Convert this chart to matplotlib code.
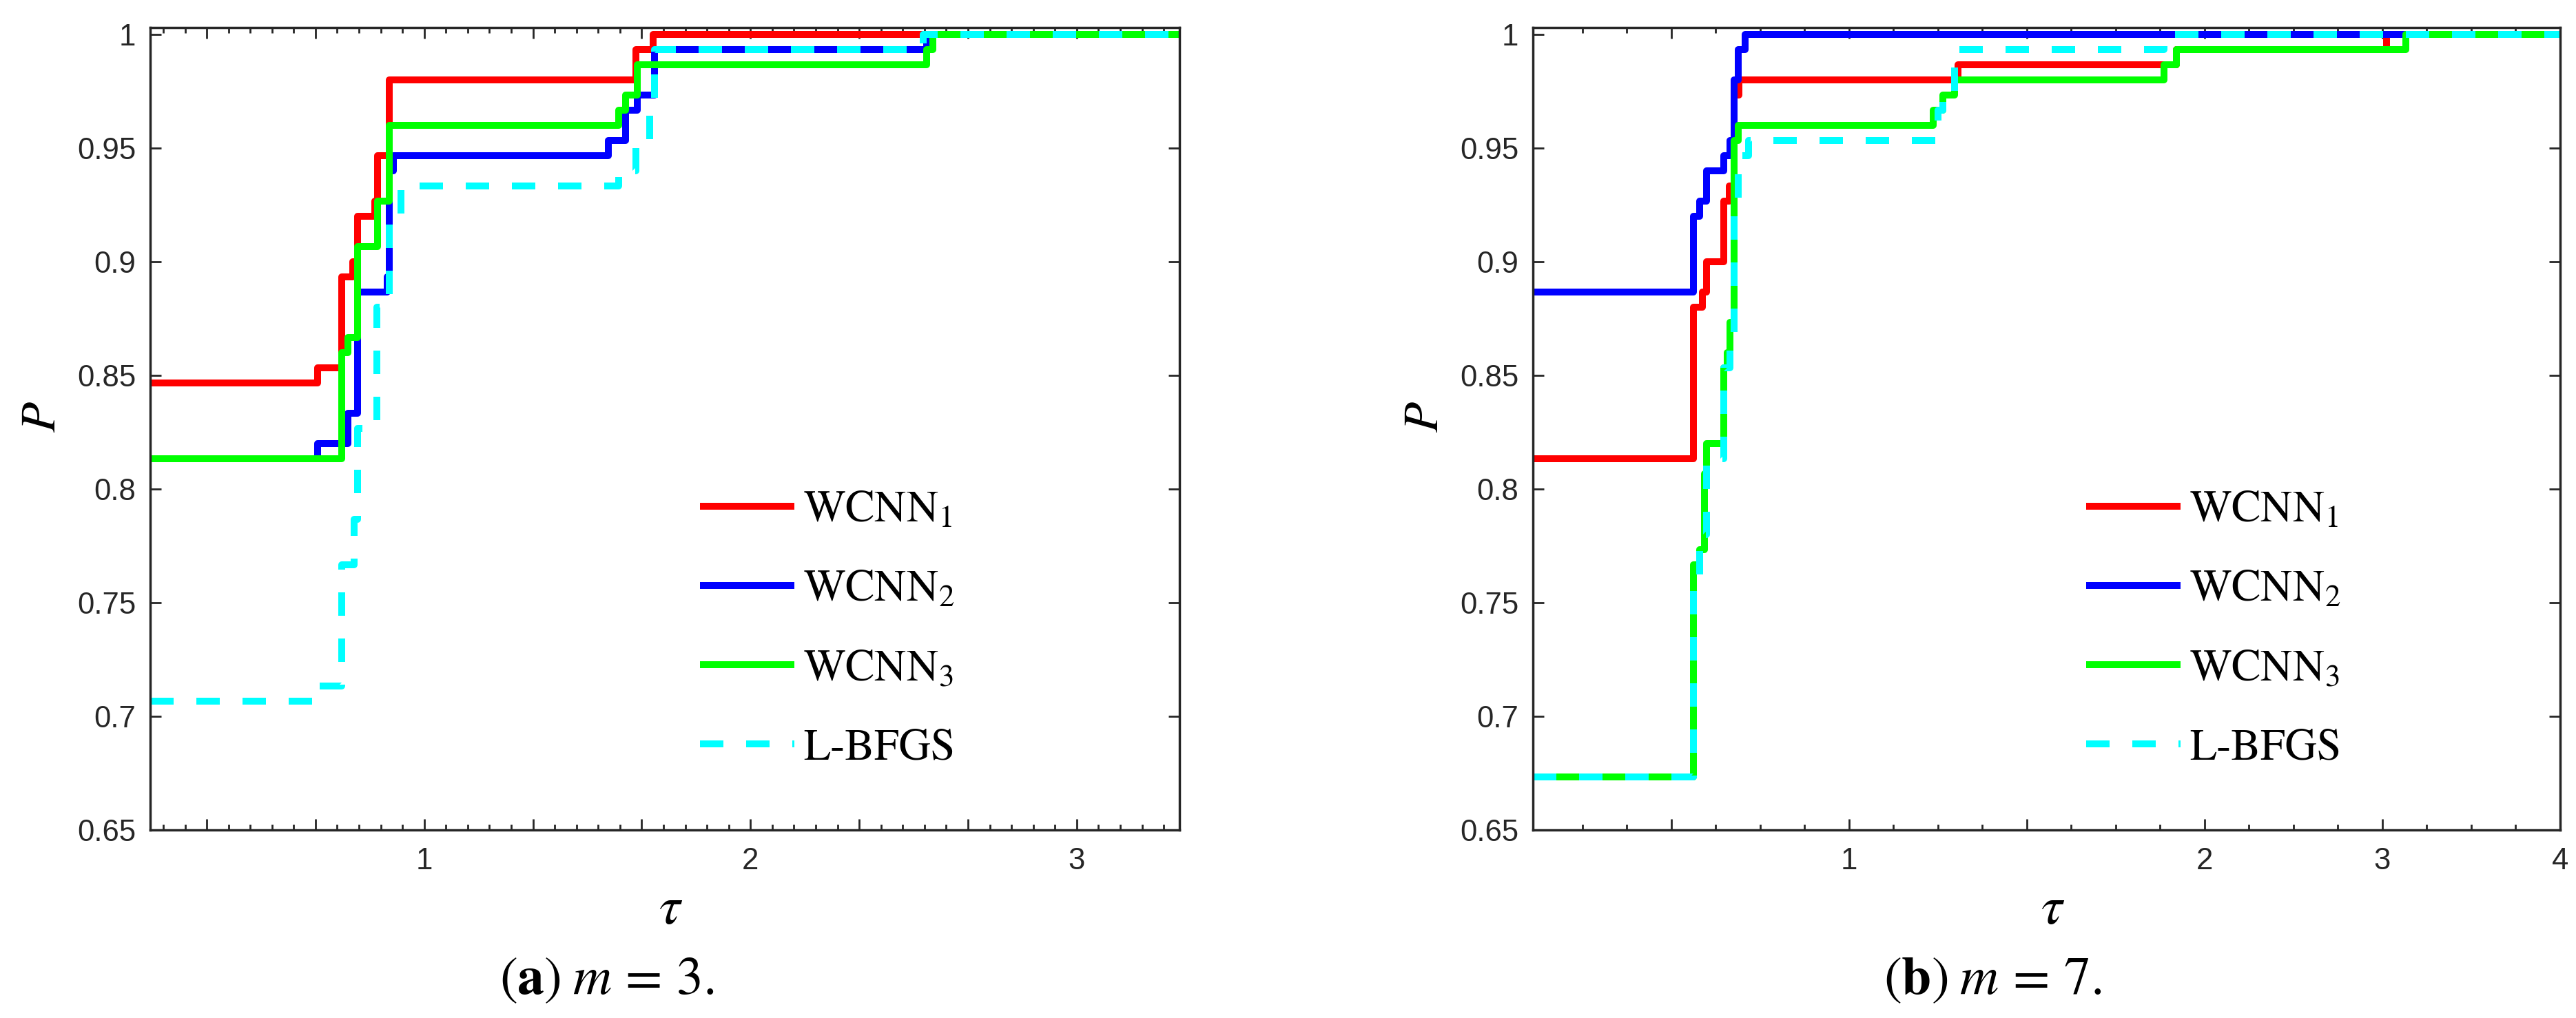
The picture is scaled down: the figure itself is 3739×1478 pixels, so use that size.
import numpy as np
import matplotlib
matplotlib.use("Agg")
import matplotlib.pyplot as plt
from matplotlib.ticker import FixedLocator, FixedFormatter, NullFormatter

plt.rcParams['mathtext.fontset'] = 'stix'
plt.rcParams['font.family'] = ['Liberation Sans', 'DejaVu Sans']

series_names = [r'$\mathrm{WCNN}_1$', r'$\mathrm{WCNN}_2$', r'$\mathrm{WCNN}_3$', 'L-BFGS']

# ---- panel (a): m = 3 ----
a_tau_wcnn1 = [0.16, 0.674, 0.748, 0.781, 0.796, 0.849, 0.856, 0.893, 1.648, 1.702, 3.315]
a_p_wcnn1   = [0.8467, 0.8533, 0.8933, 0.9000, 0.9200, 0.9267, 0.9467, 0.9800, 0.9933, 1.0, 1.0]
a_tau_wcnn2 = [0.16, 0.674, 0.767, 0.796, 0.887, 0.893, 0.905, 1.565, 1.618, 1.652, 1.706, 2.54, 3.315]
a_p_wcnn2   = [0.8133, 0.8200, 0.8333, 0.8867, 0.8933, 0.9400, 0.9467, 0.9533, 0.9667, 0.9733, 0.9933, 1.0, 1.0]
a_tau_wcnn3 = [0.16, 0.748, 0.767, 0.796, 0.856, 0.893, 1.595, 1.618, 1.652, 2.54, 2.56, 3.315]
a_p_wcnn3   = [0.8133, 0.8600, 0.8667, 0.9067, 0.9267, 0.9600, 0.9667, 0.9733, 0.9867, 0.9933, 1.0, 1.0]
a_tau_lbfgs = [0.16, 0.665, 0.748, 0.785, 0.796, 0.855, 0.893, 0.928, 1.595, 1.648, 1.690, 1.706, 2.53, 3.315]
a_p_lbfgs   = [0.7067, 0.7133, 0.7667, 0.7867, 0.8267, 0.8800, 0.9200, 0.9333, 0.9400, 0.9533, 0.9667, 0.9933, 1.0, 1.0]

# ---- panel (b): m = 7 ----
b_tau_wcnn1 = [0.54, 0.7385, 0.751, 0.758, 0.783, 0.792, 0.799, 0.807, 1.236, 1.892, 2.85, 4.0]
b_p_wcnn1   = [0.8133, 0.8800, 0.8867, 0.9000, 0.9267, 0.9333, 0.9733, 0.9800, 0.9867, 0.9933, 1.0, 1.0]
b_tau_wcnn2 = [0.54, 0.7385, 0.747, 0.758, 0.783, 0.793, 0.799, 0.806, 0.817, 4.0]
b_p_wcnn2   = [0.8867, 0.9200, 0.9267, 0.9400, 0.9467, 0.9533, 0.9800, 0.9933, 1.0, 1.0]
b_tau_wcnn3 = [0.54, 0.7385, 0.747, 0.754, 0.758, 0.783, 0.789, 0.793, 0.799, 0.806, 1.179, 1.200, 1.229, 1.849, 1.892, 2.96, 4.0]
b_p_wcnn3   = [0.6733, 0.7667, 0.7733, 0.8067, 0.8200, 0.8533, 0.8600, 0.8733, 0.9533, 0.9600, 0.9667, 0.9733, 0.9800, 0.9867, 0.9933, 1.0, 1.0]
b_tau_lbfgs = [0.54, 0.7385, 0.747, 0.758, 0.783, 0.793, 0.799, 0.806, 0.822, 1.190, 1.200, 1.229, 1.849, 4.0]
b_p_lbfgs   = [0.6733, 0.7600, 0.7800, 0.8133, 0.8533, 0.8667, 0.9200, 0.9467, 0.9533, 0.9667, 0.9733, 0.9933, 1.0, 1.0]

y_ticks = [0.65, 0.70, 0.75, 0.80, 0.85, 0.90, 0.95, 1.0]
y_tick_labels = ['0.65', '0.7', '0.75', '0.8', '0.85', '0.9', '0.95', '1']

a_x_ticks = [1/3, 2/3, 1, 4/3, 5/3, 2, 7/3, 8/3, 3]
a_x_tick_labels = ['', '', '1', '', '', '2', '', '', '3']
b_x_ticks = [2**-0.5, 1, 2**0.5, 2, 2**1.5, 4]
b_x_tick_labels = ['', '1', '', '2', '3', '4']

subtitles = [r'$(\mathbf{a})\;m\,=\,3.$', r'$(\mathbf{b})\;m\,=\,7.$']

colors = ['#FF0000', '#0000FF', '#00FF00', '#00FFFF']
AXC = '#262626'

W, H = 3739, 1478
fig = plt.figure(figsize=(W / 100, H / 100), dpi=100)

ax1 = fig.add_axes([218 / W, 1 - 1205 / H, (1712 - 218) / W, (1205 - 40) / H])
ax2 = fig.add_axes([2225 / W, 1 - 1205 / H, (3716 - 2225) / W, (1205 - 40) / H])

panel_data = [
    [(a_tau_wcnn1, a_p_wcnn1), (a_tau_wcnn2, a_p_wcnn2), (a_tau_wcnn3, a_p_wcnn3), (a_tau_lbfgs, a_p_lbfgs)],
    [(b_tau_wcnn1, b_p_wcnn1), (b_tau_wcnn2, b_p_wcnn2), (b_tau_wcnn3, b_p_wcnn3), (b_tau_lbfgs, b_p_lbfgs)],
]

for ax, data in zip([ax1, ax2], panel_data):
    for i, (xs, ys) in enumerate(data):
        if i == 3:
            ax.plot(xs, ys, drawstyle='steps-post', color=colors[i], lw=7.2,
                    dashes=(3.4, 3.3), dash_capstyle='butt', label=series_names[i])
        else:
            ax.plot(xs, ys, drawstyle='steps-post', color=colors[i], lw=7.2,
                    solid_capstyle='butt', label=series_names[i])

# x axes
ax1.set_xlim(0.16, 3.315)
ax1.xaxis.set_major_locator(FixedLocator(a_x_ticks))
ax1.xaxis.set_major_formatter(FixedFormatter(a_x_tick_labels))
a_minor = [k / 15 for k in range(3, 50) if k % 5 != 0]
ax1.xaxis.set_minor_locator(FixedLocator(a_minor))

ax2.set_xscale('log', base=2)
ax2.set_xlim(0.54, 4.0)
ax2.xaxis.set_major_locator(FixedLocator(b_x_ticks))
ax2.xaxis.set_major_formatter(FixedFormatter(b_x_tick_labels))
b_minor = [2 ** (k / 8) for k in range(-6, 16) if k % 4 != 0]
ax2.xaxis.set_minor_locator(FixedLocator(b_minor))
ax2.xaxis.set_minor_formatter(NullFormatter())

for k, ax in enumerate([ax1, ax2]):
    ax.set_ylim(0.65, 1.003)
    ax.yaxis.set_major_locator(FixedLocator(y_ticks))
    ax.yaxis.set_major_formatter(FixedFormatter(y_tick_labels))
    ax.tick_params(axis='both', which='major', direction='in', length=11.5, width=2,
                   color=AXC, labelcolor=AXC, labelsize=31.5, top=True, right=True)
    ax.tick_params(axis='both', which='minor', direction='in', length=5.8, width=2,
                   color=AXC, top=True, right=True)
    ax.tick_params(axis='x', which='major', pad=18)
    ax.tick_params(axis='y', which='major', pad=15)
    for sp in ax.spines.values():
        sp.set_linewidth(2.5)
        sp.set_color(AXC)
    ax.set_xlabel(r'$\tau$', fontsize=56, va='center')
    ax.xaxis.set_label_coords(0.506, (1205 - 1320) / 1165)
    ax.set_ylabel(r'$P$', fontsize=52, va='center')
    ax.yaxis.set_label_coords(-0.105, 0.515)
    ax.legend(loc='center left', bbox_to_anchor=(0.534 if k == 0 else 0.5386, 0.249),
              frameon=False, prop={'family': 'STIXGeneral', 'size': 46},
              handlelength=2.15, handletextpad=0.2, labelspacing=0.88,
              borderpad=0, borderaxespad=0)

fig.text(881 / W, 1 - 1423 / H, subtitles[0], fontsize=56, ha='center', va='center')
fig.text(2892 / W, 1 - 1423 / H, subtitles[1], fontsize=56, ha='center', va='center')

fig.savefig('out.png', dpi=100)
